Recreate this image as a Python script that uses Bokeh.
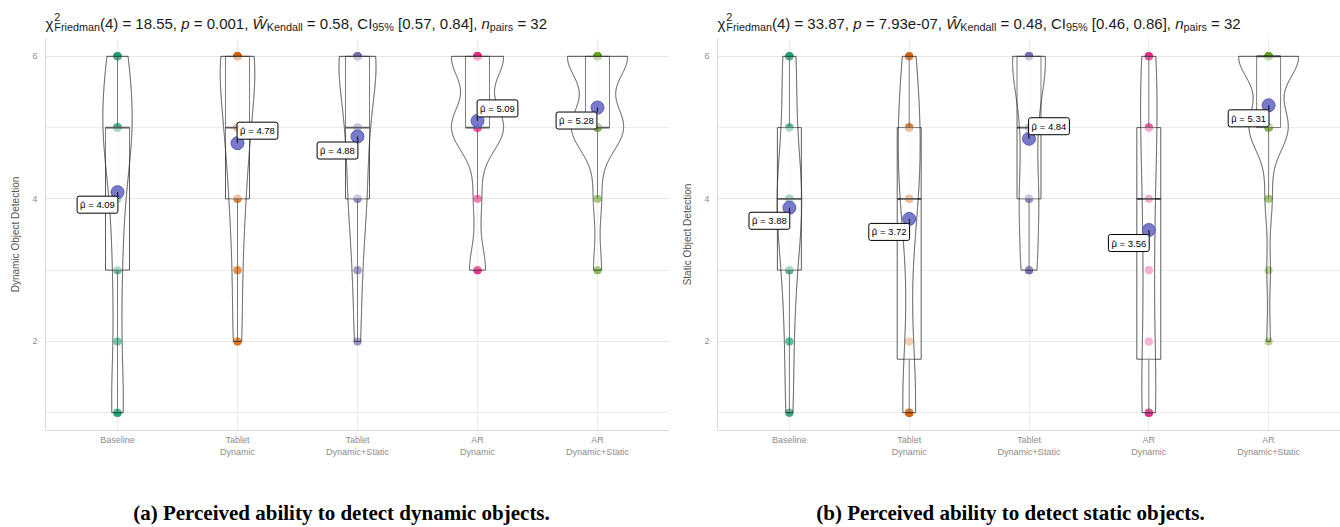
import numpy as np
from bokeh.plotting import figure
from bokeh.layouts import row, column
from bokeh.models import Label, FixedTicker, Range1d
from bokeh.embed import file_html
from bokeh.resources import INLINE

# ---------------- data ----------------
ratings = [1, 2, 3, 4, 5, 6]
conditions = ["Baseline", "Tablet\nDynamic", "Tablet\nDynamic+Static", "AR\nDynamic", "AR\nDynamic+Static"]
palette = ["#1B9E77", "#D95F02", "#7570B3", "#E7298A", "#66A61E"]

# number of participants giving each rating 1..6 (n = 32 per condition)
dyn_baseline = [5, 2, 3, 4, 11, 7]
dyn_tablet_dynamic = [0, 3, 3, 5, 8, 13]
dyn_tablet_dynstat = [0, 2, 3, 6, 7, 14]
dyn_ar_dynamic = [0, 0, 4, 2, 13, 13]
dyn_ar_dynstat = [0, 0, 2, 2, 13, 15]

sta_baseline = [3, 3, 5, 11, 4, 6]
sta_tablet_dynamic = [8, 2, 0, 8, 9, 5]
sta_tablet_dynstat = [0, 0, 6, 7, 5, 14]
sta_ar_dynamic = [8, 3, 4, 4, 6, 7]
sta_ar_dynstat = [0, 1, 1, 2, 11, 17]

dyn_stats = {"chi": "18.55", "p": "0.001", "w": "0.58", "ci": "[0.57, 0.84]", "n": "32"}
sta_stats = {"chi": "33.87", "p": "7.93e-07", "w": "0.48", "ci": "[0.46, 0.86]", "n": "32"}

dyn_ylabel = "Dynamic Object Detection"
sta_ylabel = "Static Object Detection"
dyn_caption = "(a) Perceived ability to detect dynamic objects."
sta_caption = "(b) Perceived ability to detect static objects."

# label placement of mean labels (px offsets, style only)
dyn_label_offsets = [(-20, 12.5), (20, -12.5), (-20, 14), (20, -12.5), (-21, 13)]
sta_label_offsets = [(-20, 13), (-20, 13), (20, -12.5), (-20, 13), (-20, 13)]

# ---------------- helpers ----------------
AW = {' ': 278, '(': 333, ')': 333, '=': 584, ',': 278, '.': 278, '[': 278, ']': 278,
      '%': 889, '-': 333, 'C': 722, 'F': 611, 'I': 278, 'K': 667, 'W': 944, 'Ŵ': 944,
      'a': 556, 'd': 556, 'e': 556, 'i': 222, 'l': 222, 'm': 833, 'n': 556, 'p': 556,
      'r': 333, 's': 500, 'χ': 520}


def tw(s, size):
    return sum(AW.get(c, 556) for c in s) / 1000.0 * size


def expand(counts):
    return np.repeat(np.array(ratings, dtype=float), counts)


def bw_nrd0(x):
    hi = np.std(x, ddof=1)
    iqr = np.percentile(x, 75) - np.percentile(x, 25)
    lo = min(hi, iqr / 1.34)
    if lo <= 0:
        lo = hi if hi > 0 else 1.0
    return 0.9 * lo * len(x) ** (-0.2)


def kde(x, grid):
    bw = bw_nrd0(x)
    z = (grid[:, None] - x[None, :]) / bw
    return np.exp(-0.5 * z * z).sum(axis=1) / (len(x) * bw * np.sqrt(2 * np.pi))


W_TOTAL = 1340
HEAD_H = 38
FRAME_H = 392
BOT_B = 40
CAP_H = 56
LBL_FS = 9.5


def blank_fig(w, h):
    f = figure(width=w, height=h, x_range=Range1d(0, w), y_range=Range1d(0, h),
               x_axis_type=None, y_axis_type=None, min_border=0,
               output_backend="svg", toolbar_location=None)
    f.outline_line_color = None
    f.grid.visible = False
    return f


def make_panel(groups, ylabel, offsets, frame_w, border_left, border_right):
    p = figure(frame_width=frame_w, frame_height=FRAME_H,
               min_border_left=border_left, min_border_right=border_right,
               min_border_top=0, min_border_bottom=BOT_B,
               x_range=Range1d(0.4, 5.6), y_range=Range1d(0.75, 6.25),
               output_backend="svg", toolbar_location=None)
    p.outline_line_color = None

    sx = frame_w / 5.2
    sy = FRAME_H / 5.5

    p.xaxis.ticker = FixedTicker(ticks=[1, 2, 3, 4, 5])
    p.xaxis.major_label_overrides = {i + 1: c for i, c in enumerate(conditions)}
    p.yaxis.ticker = FixedTicker(ticks=[2, 4, 6], minor_ticks=[1, 3, 5])
    for ax in (p.xaxis[0], p.yaxis[0]):
        ax.axis_line_color = "#D9D9D9"
        ax.axis_line_width = 1
        ax.major_tick_line_color = None
        ax.minor_tick_line_color = None
        ax.major_tick_in = 0
        ax.major_tick_out = 0
        ax.major_label_text_font = "Liberation Sans"
        ax.major_label_text_font_size = "9px"
        ax.major_label_text_color = "#8C8C8C"
        ax.major_label_standoff = 4
    p.yaxis.axis_label = ylabel
    p.yaxis.axis_label_text_font = "Liberation Sans"
    p.yaxis.axis_label_text_font_size = "10px"
    p.yaxis.axis_label_text_font_style = "normal"
    p.yaxis.axis_label_text_color = "#555555"
    p.yaxis.axis_label_standoff = 8
    p.xgrid.grid_line_color = "#EBEBEB"
    p.ygrid.grid_line_color = "#E6E6E6"
    p.ygrid.minor_grid_line_color = "#EBEBEB"

    data = [expand(g) for g in groups]

    # individual answers
    px, py, pc = [], [], []
    for i, d in enumerate(data):
        px += [i + 1] * len(d)
        py += list(d)
        pc += [palette[i]] * len(d)
    p.scatter(x=px, y=py, color=pc, size=8, fill_alpha=0.5, line_alpha=0)

    # boxplots
    q1s, meds, q3s, wlo, whi = [], [], [], [], []
    for d in data:
        q1, med, q3 = np.percentile(d, [25, 50, 75])
        iqr = q3 - q1
        q1s.append(q1); meds.append(med); q3s.append(q3)
        wlo.append(d[d >= q1 - 1.5 * iqr].min())
        whi.append(d[d <= q3 + 1.5 * iqr].max())
    xs = np.arange(1, 6)
    p.segment(x0=xs, x1=xs, y0=q3s, y1=whi, line_color="#333333", line_width=0.8)
    p.segment(x0=xs, x1=xs, y0=q1s, y1=wlo, line_color="#333333", line_width=0.8)
    p.quad(left=xs - 0.1, right=xs + 0.1, bottom=q1s, top=q3s, fill_color="white",
           fill_alpha=0.5, line_color="#333333", line_width=0.8)
    p.segment(x0=xs - 0.1, x1=xs + 0.1, y0=meds, y1=meds, line_color="#333333", line_width=1.8)

    # violins (scale = "area", width 0.5)
    dens = []
    for d in data:
        grid = np.linspace(d.min(), d.max(), 512)
        dens.append((grid, kde(d, grid)))
    dmax = max(v.max() for _, v in dens)
    vx, vy = [], []
    for i, (grid, v) in enumerate(dens):
        hw = 0.25 * v / dmax
        vx.append(list(np.concatenate([i + 1 - hw, (i + 1 + hw)[::-1]])))
        vy.append(list(np.concatenate([grid, grid[::-1]])))
    p.patches(xs=vx, ys=vy, fill_color="white", fill_alpha=0.2, line_color="#222222", line_width=0.8)

    # means
    means = [d.mean() for d in data]
    p.scatter(x=xs, y=means, size=13, fill_color="#6C6CC8", fill_alpha=0.9,
              line_color="#5A5AB4", line_width=1)
    LW, LH = 41, 16
    for i, m in enumerate(means):
        ox, oy = offsets[i]
        cx = ox - np.sign(ox) * LW / 2
        cy = oy - np.sign(oy) * LH / 2
        p.segment(x0=[i + 1], y0=[m], x1=[i + 1 + cx / sx], y1=[m - cy / sy],
                  line_color="black", line_width=1)
        lx = i + 1 + ox / sx
        ly = m - oy / sy
        p.add_layout(Label(x=lx, y=ly, text=f"\u03bc = {m:.2f}",
                           text_align="center", text_baseline="middle",
                           text_font="Liberation Sans", text_font_size=f"{LBL_FS}px", text_color="black",
                           background_fill_color="white", border_line_color="black",
                           border_line_width=1, padding=3, border_radius=2))
        p.add_layout(Label(x=lx - 14.7 / sx, y=ly, text="\u02c6",
                           text_align="center", text_baseline="middle",
                           text_font="Liberation Sans", text_font_size=f"{LBL_FS}px", text_color="black"))
    return p


def add_subtitle(f, stats, x0, baseline_abs):
    ts = 15.0
    ss = ts * 0.72
    base = HEAD_H - baseline_abs
    sub_y = base - 4
    sup_y = base + 6.5
    pieces = [("\u03c7", "n"), ("", "supsub"), ("(4) = " + stats["chi"] + ", ", "n"), ("p", "i"),
              (" = " + stats["p"] + ", ", "n"), ("\u0174", "i"), ("Kendall", "sub"),
              (" = " + stats["w"] + ", CI", "n"), ("95%", "sub"), (" " + stats["ci"] + ", ", "n"),
              ("n", "i"), ("pairs", "sub"), (" = " + stats["n"], "n")]

    def put(text, xx, yy, size, style):
        f.add_layout(Label(x=xx, y=yy, text=text,
                           text_font="Liberation Sans", text_font_size=f"{size:.1f}px",
                           text_font_style=style, text_color="#1A1A1A",
                           text_align="left", text_baseline="alphabetic"))

    x = x0
    for txt, kind in pieces:
        if kind == "supsub":
            put("2", x + 1, sup_y, ss, "normal")
            put("Friedman", x + 1, sub_y, ss, "normal")
            x += tw("Friedman", ss) + 1
            continue
        size = ss if kind == "sub" else ts
        style = "italic" if kind == "i" else "normal"
        yy = sub_y if kind == "sub" else base
        lead = len(txt) - len(txt.lstrip())
        put(txt.strip(), x + tw(" " * lead, size), yy, size, style)
        x += tw(txt, size)


head = blank_fig(W_TOTAL, HEAD_H)
add_subtitle(head, dyn_stats, 45, 22.5)
add_subtitle(head, sta_stats, 717, 22.5)

p1 = make_panel([dyn_baseline, dyn_tablet_dynamic, dyn_tablet_dynstat, dyn_ar_dynamic, dyn_ar_dynstat],
                dyn_ylabel, dyn_label_offsets, frame_w=624, border_left=45, border_right=3)
p2 = make_panel([sta_baseline, sta_tablet_dynamic, sta_tablet_dynstat, sta_ar_dynamic, sta_ar_dynstat],
                sta_ylabel, sta_label_offsets, frame_w=623, border_left=45, border_right=0)

cap = blank_fig(W_TOTAL, CAP_H)
for txt, cxp in ((dyn_caption, 341), (sta_caption, 1010)):
    cap.add_layout(Label(x=cxp, y=CAP_H - (512 - 470), text=txt,
                         text_font="Liberation Serif", text_font_size="21px", text_font_style="bold",
                         text_color="black", text_align="center", text_baseline="middle"))

layout = column(head, row(p1, p2), cap)
open("out.html", "w").write(file_html(layout, INLINE))
